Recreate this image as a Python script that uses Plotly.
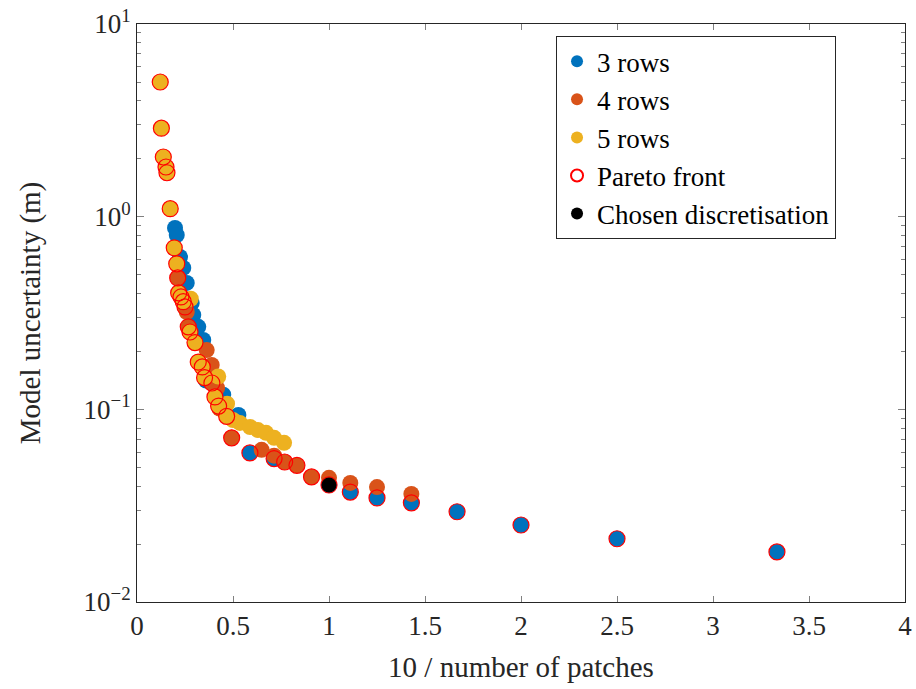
import plotly.graph_objects as go

# 3 rows of patches: (10 / number of patches, model uncertainty in m)
rows3_x = [0.198, 0.207, 0.224, 0.241, 0.259, 0.285, 0.293, 0.319, 0.345, 0.355,
           0.360, 0.449, 0.528, 0.588, 0.714, 1.000, 1.111, 1.250, 1.429, 1.667,
           2.000, 2.500, 3.333]
rows3_y = [0.873, 0.803, 0.618, 0.542, 0.453, 0.356, 0.309, 0.268, 0.229, 0.150,
           0.141, 0.119, 0.0935, 0.0594, 0.0555, 0.0405, 0.0372, 0.0347, 0.0327, 0.0294,
           0.0251, 0.0213, 0.0182]

# 4 rows of patches
rows4_x = [0.212, 0.229, 0.250, 0.259, 0.267, 0.363, 0.389, 0.390, 0.417, 0.430,
           0.493, 0.649, 0.714, 0.769, 0.833, 0.909, 1.000, 1.111, 1.250, 1.429]
rows4_y = [0.481, 0.383, 0.340, 0.320, 0.268, 0.203, 0.170, 0.137, 0.129, 0.101,
           0.0711, 0.0616, 0.0575, 0.0533, 0.0512, 0.0446, 0.0441, 0.0415, 0.0395, 0.0364]

# 5 rows of patches
rows5_x = [0.121, 0.127, 0.137, 0.151, 0.156, 0.173, 0.194, 0.207, 0.217, 0.241,
           0.276, 0.280, 0.302, 0.319, 0.340, 0.352, 0.406, 0.423, 0.425, 0.467,
           0.469, 0.500, 0.536, 0.589, 0.630, 0.672, 0.714, 0.766]
rows5_y = [5.00, 2.88, 2.04, 1.81, 1.69, 1.10, 0.689, 0.569, 0.402, 0.362,
           0.252, 0.375, 0.222, 0.176, 0.166, 0.146, 0.116, 0.148, 0.104, 0.092,
           0.107, 0.088, 0.085, 0.081, 0.078, 0.0755, 0.0711, 0.067]

# Non-dominated designs
pareto_x = [0.121, 0.127, 0.137, 0.151, 0.156, 0.173, 0.194, 0.207, 0.212, 0.217,
            0.229, 0.241, 0.250, 0.267, 0.276, 0.302, 0.319, 0.340, 0.352, 0.390,
            0.406, 0.425, 0.467, 0.493, 0.588, 0.714, 0.769, 0.833, 0.909, 1.000,
            1.111, 1.250, 1.429, 1.667, 2.000, 2.500, 3.333]
pareto_y = [5.00, 2.88, 2.04, 1.81, 1.69, 1.10, 0.689, 0.569, 0.481, 0.402,
            0.383, 0.362, 0.340, 0.268, 0.252, 0.222, 0.176, 0.166, 0.146, 0.137,
            0.116, 0.104, 0.092, 0.0711, 0.0594, 0.0555, 0.0533, 0.0512, 0.0446, 0.0405,
            0.0372, 0.0347, 0.0327, 0.0294, 0.0251, 0.0213, 0.0182]

chosen_x = [1.000]
chosen_y = [0.0405]

x_ticks = [0, 0.5, 1, 1.5, 2, 2.5, 3, 3.5, 4]
x_ticklabels = ["0", "0.5", "1", "1.5", "2", "2.5", "3", "3.5", "4"]
y_ticks = [0.01, 0.1, 1, 10]
y_ticklabels = ["10<sup>−2</sup>", "10<sup>−1</sup>", "10<sup>0</sup>", "10<sup>1</sup>"]
# minor ticks at 2..9 within each decade
y_minor = [m * 10.0 ** e for e in (-2, -1, 0) for m in range(2, 10)]

FONT = "Liberation Serif"
INK = "#262626"
MS = 16

fig = go.Figure()
for name, xs, ys, col in [("3 rows", rows3_x, rows3_y, "#0072BD"),
                          ("4 rows", rows4_x, rows4_y, "#D95319"),
                          ("5 rows", rows5_x, rows5_y, "#EDB120")]:
    fig.add_trace(go.Scatter(x=xs, y=ys, mode="markers", name=name,
                             marker=dict(size=MS, color=col, line=dict(width=0))))

fig.add_trace(go.Scatter(x=pareto_x, y=pareto_y, mode="markers", name="Pareto front",
                         marker=dict(size=MS, color="rgba(0,0,0,0)",
                                     line=dict(width=1.2, color="#FF0000"))))
fig.add_trace(go.Scatter(x=chosen_x, y=chosen_y, mode="markers", name="Chosen discretisation",
                         marker=dict(size=MS - 1, color="#000000", line=dict(width=0))))

axis_common = dict(showline=True, linecolor=INK, linewidth=1, mirror="ticks",
                   ticks="inside", tickcolor="#808080", showgrid=False, zeroline=False,
                   automargin=False,
                   tickfont=dict(family=FONT, size=27, color=INK))

fig.update_xaxes(range=[0, 4], tickvals=x_ticks, ticktext=x_ticklabels, ticklen=6,
                 title=dict(text="10 / number of patches",
                            font=dict(family=FONT, size=29, color=INK), standoff=16),
                 **axis_common)
fig.update_yaxes(type="log", range=[-2, 1], tickvals=y_ticks, ticktext=y_ticklabels, ticklen=7,
                 minor=dict(tickvals=y_minor, ticks="inside", ticklen=4,
                            tickcolor="#808080", showgrid=False),
                 title=dict(text="Model uncertainty (m)",
                            font=dict(family=FONT, size=29, color=INK), standoff=34),
                 **axis_common)

fig.update_layout(
    width=916, height=689,
    margin=dict(l=137, r=11, t=24, b=87, autoexpand=False),
    paper_bgcolor="white", plot_bgcolor="white",
    font=dict(family=FONT, color=INK),
    legend=dict(x=0.5456, y=0.979, xanchor="left", yanchor="top",
                bgcolor="white", bordercolor=INK, borderwidth=1,
                font=dict(family=FONT, size=27, color="#000000"),
                entrywidth=290, entrywidthmode="pixels",
                itemsizing="constant", tracegroupgap=0),
    showlegend=True,
)

fig.write_html("out.html")
